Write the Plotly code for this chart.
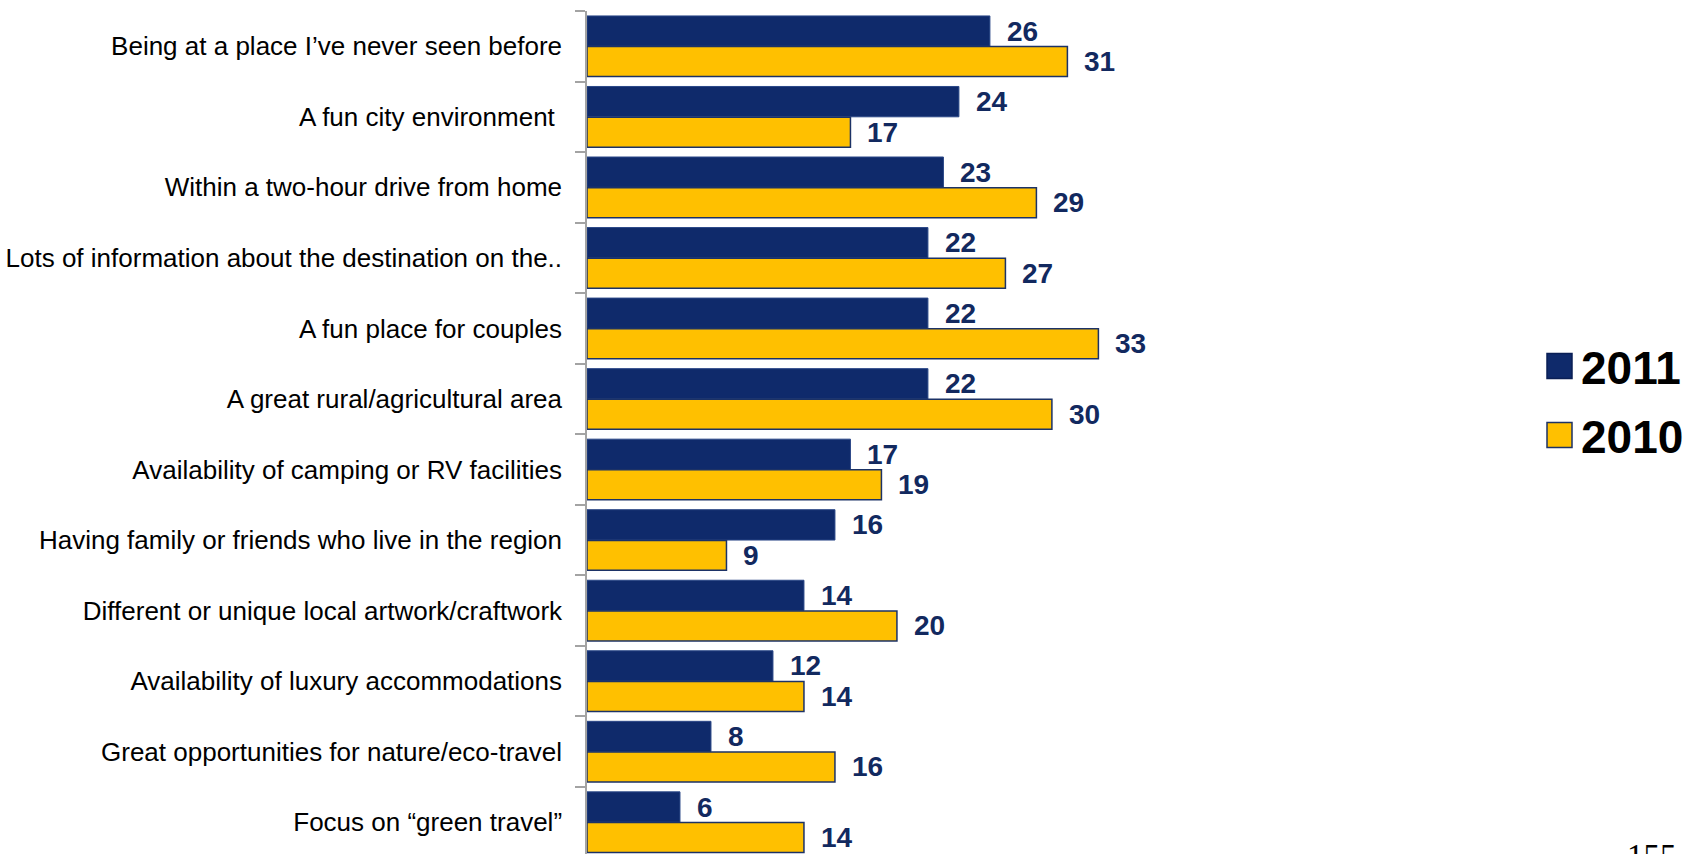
import plotly.graph_objects as go

# Survey results: share of respondents (%) by destination attribute
categories = [
    "Being at a place I\u2019ve never seen before",
    "A fun city environment\u00a0",
    "Within a two-hour drive from home",
    "Lots of information about the destination on the..",
    "A fun place for couples",
    "A great rural/agricultural area",
    "Availability of camping or RV facilities",
    "Having family or friends who live in the region",
    "Different or unique local artwork/craftwork",
    "Availability of luxury accommodations",
    "Great opportunities for nature/eco-travel",
    "Focus on \u201cgreen travel\u201d",
]
values_2011 = [26, 24, 23, 22, 22, 22, 17, 16, 14, 12, 8, 6]
values_2010 = [31, 17, 29, 27, 33, 30, 19, 9, 20, 14, 16, 14]
series_names = ["2011", "2010"]

NAVY = "#0f2a6b"
NAVY_EDGE = "#2a4787"
GOLD = "#ffc000"
GOLD_EDGE = "#1c3266"
LABEL_BLUE = "#12295f"
FONT = "Liberation Sans, Arial, sans-serif"

W, H = 1700, 854
L, R, T, B = 587, 497, 11, 0
plot_w = W - L - R
plot_h = H - T - B

# bar placement inside each category band (category units)
OFF_A, WID_A = -0.43, 0.43
OFF_B, WID_B = 0.005, 0.425

fig = go.Figure()
fig.add_trace(go.Bar(
    y=categories, x=values_2011, orientation="h", name=series_names[0],
    offset=OFF_A, width=WID_A,
    marker=dict(color=NAVY, line=dict(color=NAVY_EDGE, width=1)),
    showlegend=False, hoverinfo="x",
))
fig.add_trace(go.Bar(
    y=categories, x=values_2010, orientation="h", name=series_names[1],
    offset=OFF_B, width=WID_B,
    marker=dict(color=GOLD, line=dict(color=GOLD_EDGE, width=1.5)),
    showlegend=False, hoverinfo="x",
))

annotations = []
for i, (a, b) in enumerate(zip(values_2011, values_2010)):
    for v, off, wid in ((a, OFF_A, WID_A), (b, OFF_B, WID_B)):
        annotations.append(dict(
            x=v, y=i + off + wid / 2, xref="x", yref="y",
            text=f"<b>{v}</b>", showarrow=False,
            xanchor="left", yanchor="middle", xshift=15,
            font=dict(family=FONT, size=28, color=LABEL_BLUE),
        ))


def px_x(p):
    return (p - L) / plot_w


def px_y(p):
    return (H - B - p) / plot_h


# legend drawn by hand so the swatches can be large
legend_rows = [(series_names[0], NAVY, "#0a1f55", 366), (series_names[1], GOLD, GOLD_EDGE, 435)]
shapes = []
for name, fill, edge, cy in legend_rows:
    shapes.append(dict(
        type="rect", xref="paper", yref="paper",
        x0=px_x(1547), x1=px_x(1572), y0=px_y(cy + 12.5), y1=px_y(cy - 12.5),
        fillcolor=fill, line=dict(color=edge, width=1.5),
    ))
    annotations.append(dict(
        x=px_x(1579), y=px_y(cy + 2), xref="paper", yref="paper",
        text=f"<b>{name}</b>", showarrow=False, xanchor="left", yanchor="middle",
        font=dict(family=FONT, size=46, color="#000000"),
    ))

# page number at the lower right
annotations.append(dict(
    x=px_x(1625), y=px_y(836), xref="paper", yref="paper",
    text="155", showarrow=False, xanchor="left", yanchor="top",
    font=dict(family="Liberation Serif, Times New Roman, serif", size=33, color="#000000"),
))

fig.update_layout(
    width=W, height=H,
    margin=dict(l=L, r=R, t=T, b=B, pad=0, autoexpand=False),
    paper_bgcolor="white", plot_bgcolor="white",
    barmode="overlay",
    showlegend=False,
    annotations=annotations,
    shapes=shapes,
    font=dict(family=FONT),
)
fig.update_xaxes(
    range=[0, 39.75], visible=False, showgrid=False, zeroline=False,
    automargin=False,
)
fig.update_yaxes(
    type="category", categoryorder="array", categoryarray=categories,
    range=[11.451, -0.5], tickson="boundaries", automargin=False,
    showgrid=False, zeroline=False,
    showline=True, linecolor="#a3a3a3", linewidth=1.5,
    ticks="outside", ticklen=10, tickcolor="#a3a3a3", tickwidth=1.5,
    tickfont=dict(family=FONT, size=26, color="#000000"),
    ticklabelstandoff=18,
)

fig.write_html("out.html")
